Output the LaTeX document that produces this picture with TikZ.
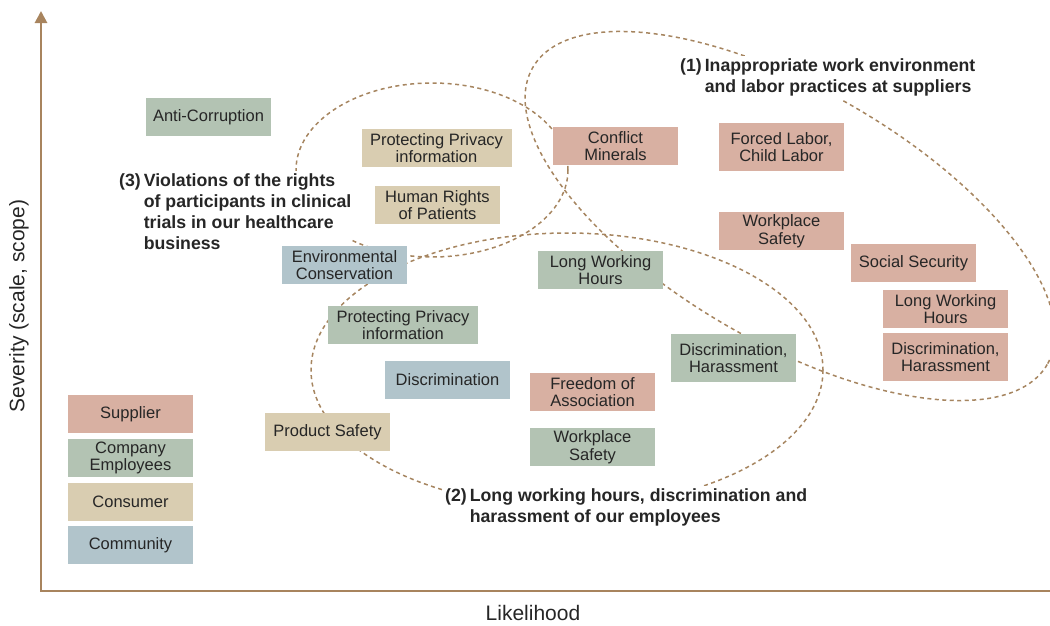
\documentclass[tikz,border=0pt]{standalone}
\usepackage{fontspec}
\setmainfont{Liberation Sans}
\usetikzlibrary{arrows.meta}
\definecolor{supc}{HTML}{D8B0A2}
\definecolor{empc}{HTML}{B3C3B3}
\definecolor{conc}{HTML}{D9CDB1}
\definecolor{comc}{HTML}{B1C4CB}
\definecolor{axisc}{HTML}{A8845E}
\definecolor{dashc}{HTML}{A68560}
\definecolor{txt}{HTML}{262626}
\begin{document}
\begin{tikzpicture}[x=1pt,y=-1pt,
  box/.style={rectangle, inner sep=0pt, minimum width=125pt, minimum height=38pt, align=center, text=txt, font=\fontsize{16.5}{17.5}\selectfont},
  sup/.style={box, fill=supc}, emp/.style={box, fill=empc},
  con/.style={box, fill=conc}, com/.style={box, fill=comc},
  tall/.style={minimum height=48pt}, wide/.style={minimum width=150pt},
  ring/.style={draw=dashc, line width=1.5pt, dash pattern=on 4pt off 3.5pt},
  note/.style={anchor=north west, inner sep=1pt, fill=white, text=txt, font=\bfseries\fontsize{17.7}{21}\selectfont},
  axis/.style={draw=axisc, line width=2.7pt},
  axlabel/.style={text=txt, font=\fontsize{21}{24}\selectfont}]
\useasboundingbox (0,0) rectangle (1050,625);
\begin{scope}
\clip (0,0) rectangle (1050,625);
\draw[ring] (432,170) ellipse [x radius=136, y radius=87];
\draw[ring] (567,370) ellipse [x radius=256, y radius=137];
\draw[ring, rotate around={-30:(790,216)}] (790,216) ellipse [x radius=297, y radius=126.5];
\end{scope}
% axes
\coordinate (ytip) at (41,11);
\coordinate (orig) at (41,591);
\coordinate (xend) at (1052,591);
\draw[axis, {Triangle[length=12pt,width=12pt]}-] (ytip) -- (orig) -- (xend);
\node[axlabel, rotate=90] (ylab) at (19,306) {Severity (scale, scope)};
\node[axlabel] (xlab) at (533,613) {Likelihood};
% notes
\node[note] (n1) at (679,56) {\begin{tabular}{@{}l@{\hspace{3pt}}l@{}}(1)&Inappropriate work environment\\&and labor practices at suppliers\end{tabular}};
\node[note] (n3) at (118,171) {\begin{tabular}{@{}l@{\hspace{3pt}}l@{}}(3)&Violations of the rights\\&of participants in clinical\\&trials in our healthcare\\&business\end{tabular}};
\node[note] (n2) at (444,486) {\begin{tabular}{@{}l@{\hspace{3pt}}l@{}}(2)&Long working hours, discrimination and\\&harassment of our employees\end{tabular}};
% boxes
\node[emp] (anti) at (208.5,117) {Anti-Corruption};
\node[con,wide] (pp1) at (436.5,148) {Protecting Privacy\\information};
\node[con] (hr) at (437.5,205) {Human Rights\\of Patients};
\node[sup] (cm) at (615.5,146) {Conflict\\Minerals};
\node[sup,tall] (fl) at (781.5,147) {Forced Labor,\\Child Labor};
\node[sup] (ws1) at (781.5,231) {Workplace\\Safety};
\node[sup] (ss) at (913.5,263) {Social Security};
\node[sup] (lwh1) at (945.5,309) {Long Working\\Hours};
\node[sup,tall] (dh1) at (945.5,357) {Discrimination,\\Harassment};
\node[emp,tall] (dh2) at (733.5,358) {Discrimination,\\Harassment};
\node[emp] (lwh2) at (600.5,270) {Long Working\\Hours};
\node[com] (env) at (344.5,265) {Environmental\\Conservation};
\node[emp,wide] (pp2) at (403,325) {Protecting Privacy\\information};
\node[com] (disc) at (447.5,380) {Discrimination};
\node[sup] (foa) at (592.5,392) {Freedom of\\Association};
\node[emp] (ws2) at (592.5,447) {Workplace\\Safety};
\node[con] (ps) at (327.5,432) {Product Safety};
% legend
\node[sup] (lsup) at (130.5,414) {Supplier};
\node[emp] (lemp) at (130.5,458) {Company\\Employees};
\node[con] (lcon) at (130.5,502) {Consumer};
\node[com] (lcom) at (130.5,545) {Community};
\end{tikzpicture}
\end{document}
